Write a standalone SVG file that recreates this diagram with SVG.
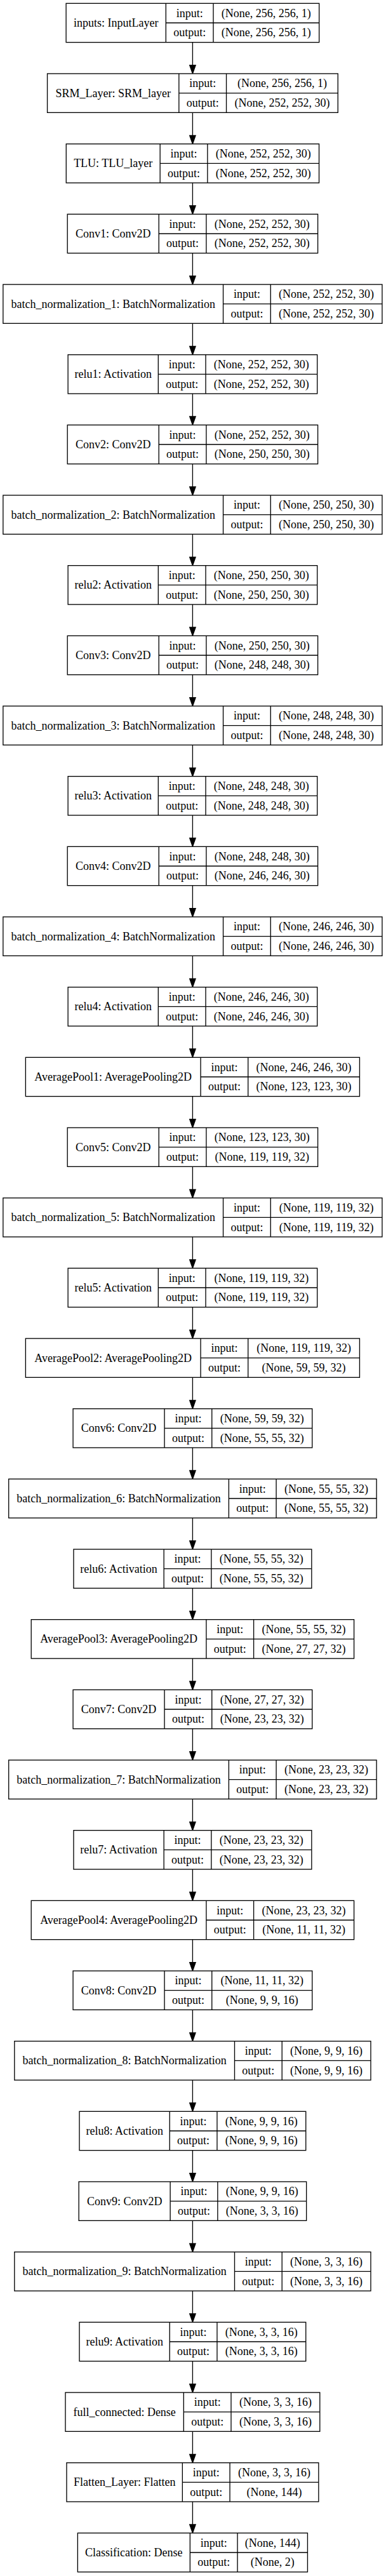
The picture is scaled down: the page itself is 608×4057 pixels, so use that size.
<svg xmlns="http://www.w3.org/2000/svg" width="608" height="4057" viewBox="0 0 608 4057">
<style>
.b{fill:#fff;stroke:#000;stroke-width:1.33}
.l{fill:none;stroke:#000;stroke-width:1.33}
.e{fill:none;stroke:#000;stroke-width:1.33}
text{font-family:"Liberation Serif","Times New Roman",serif;font-size:18px;text-anchor:middle;fill:#000}
</style>
<defs>
<marker id="ah" markerUnits="userSpaceOnUse" viewBox="0 -6 16 12" refX="0" refY="0" markerWidth="16" markerHeight="12" orient="auto" overflow="visible">
<path d="M0,-4.67L13.33,0L0,4.67Z" fill="#000" stroke="#000" stroke-width="1.33"/>
</marker>
</defs>
<rect x="0" y="0" width="608" height="4057" fill="#fff"/>
<g id="edges">
<path class="e" marker-end="url(#ah)" d="M303.4,66.67V102.67"/>
<path class="e" marker-end="url(#ah)" d="M303.4,177.33V213.33"/>
<path class="e" marker-end="url(#ah)" d="M303.4,288V324"/>
<path class="e" marker-end="url(#ah)" d="M303.4,398.67V434.67"/>
<path class="e" marker-end="url(#ah)" d="M303.4,509.33V545.33"/>
<path class="e" marker-end="url(#ah)" d="M303.4,620V656"/>
<path class="e" marker-end="url(#ah)" d="M303.4,730.67V766.67"/>
<path class="e" marker-end="url(#ah)" d="M303.4,841.33V877.33"/>
<path class="e" marker-end="url(#ah)" d="M303.4,952V988"/>
<path class="e" marker-end="url(#ah)" d="M303.4,1062.67V1098.67"/>
<path class="e" marker-end="url(#ah)" d="M303.4,1173.33V1209.33"/>
<path class="e" marker-end="url(#ah)" d="M303.4,1284V1320"/>
<path class="e" marker-end="url(#ah)" d="M303.4,1394.67V1430.67"/>
<path class="e" marker-end="url(#ah)" d="M303.4,1505.33V1541.33"/>
<path class="e" marker-end="url(#ah)" d="M303.4,1616V1652"/>
<path class="e" marker-end="url(#ah)" d="M303.4,1726.67V1762.67"/>
<path class="e" marker-end="url(#ah)" d="M303.4,1837.33V1873.33"/>
<path class="e" marker-end="url(#ah)" d="M303.4,1948V1984"/>
<path class="e" marker-end="url(#ah)" d="M303.4,2058.67V2094.67"/>
<path class="e" marker-end="url(#ah)" d="M303.4,2169.33V2205.33"/>
<path class="e" marker-end="url(#ah)" d="M303.4,2280V2316"/>
<path class="e" marker-end="url(#ah)" d="M303.4,2390.67V2426.67"/>
<path class="e" marker-end="url(#ah)" d="M303.4,2501.33V2537.33"/>
<path class="e" marker-end="url(#ah)" d="M303.4,2612V2648"/>
<path class="e" marker-end="url(#ah)" d="M303.4,2722.67V2758.67"/>
<path class="e" marker-end="url(#ah)" d="M303.4,2833.33V2869.33"/>
<path class="e" marker-end="url(#ah)" d="M303.4,2944V2980"/>
<path class="e" marker-end="url(#ah)" d="M303.4,3054.67V3090.67"/>
<path class="e" marker-end="url(#ah)" d="M303.4,3165.33V3201.33"/>
<path class="e" marker-end="url(#ah)" d="M303.4,3276V3312"/>
<path class="e" marker-end="url(#ah)" d="M303.4,3386.67V3422.67"/>
<path class="e" marker-end="url(#ah)" d="M303.4,3497.33V3533.33"/>
<path class="e" marker-end="url(#ah)" d="M303.4,3608V3644"/>
<path class="e" marker-end="url(#ah)" d="M303.4,3718.67V3754.67"/>
<path class="e" marker-end="url(#ah)" d="M303.4,3829.33V3865.33"/>
<path class="e" marker-end="url(#ah)" d="M303.4,3940V3976"/>
</g>

<g id="inputs" transform="translate(0,5.33)">
<rect class="b" x="104.1" y="0" width="398.6" height="61.33"/>
<path class="l" d="M261.3,0V61.33M336,0V61.33M261.3,30.67H502.7"/>
<text x="182.7" y="36.67">inputs: InputLayer</text>
<text x="298.65" y="21.33">input:</text><text x="298.65" y="52">output:</text>
<text x="419.35" y="21.33">(None, 256, 256, 1)</text><text x="419.35" y="52">(None, 256, 256, 1)</text>
</g>

<g id="SRM_Layer" transform="translate(0,116)">
<rect class="b" x="74.55" y="0" width="457.7" height="61.33"/>
<path class="l" d="M281.85,0V61.33M356.55,0V61.33M281.85,30.67H532.25"/>
<text x="178.2" y="36.67">SRM_Layer: SRM_layer</text>
<text x="319.2" y="21.33">input:</text><text x="319.2" y="52">output:</text>
<text x="444.4" y="21.33">(None, 256, 256, 1)</text><text x="444.4" y="52">(None, 252, 252, 30)</text>
</g>

<g id="TLU" transform="translate(0,226.67)">
<rect class="b" x="104.25" y="0" width="398.3" height="61.33"/>
<path class="l" d="M252.15,0V61.33M326.85,0V61.33M252.15,30.67H502.55"/>
<text x="178.2" y="36.67">TLU: TLU_layer</text>
<text x="289.5" y="21.33">input:</text><text x="289.5" y="52">output:</text>
<text x="414.7" y="21.33">(None, 252, 252, 30)</text><text x="414.7" y="52">(None, 252, 252, 30)</text>
</g>

<g id="Conv1" transform="translate(0,337.33)">
<rect class="b" x="106.2" y="0" width="394.4" height="61.33"/>
<path class="l" d="M250.2,0V61.33M324.9,0V61.33M250.2,30.67H500.6"/>
<text x="178.2" y="36.67">Conv1: Conv2D</text>
<text x="287.55" y="21.33">input:</text><text x="287.55" y="52">output:</text>
<text x="412.75" y="21.33">(None, 252, 252, 30)</text><text x="412.75" y="52">(None, 252, 252, 30)</text>
</g>

<g id="batch_normalization_1" transform="translate(0,448)">
<rect class="b" x="4.85" y="0" width="597.1" height="61.33"/>
<path class="l" d="M351.55,0V61.33M426.25,0V61.33M351.55,30.67H601.95"/>
<text x="178.2" y="36.67">batch_normalization_1: BatchNormalization</text>
<text x="388.9" y="21.33">input:</text><text x="388.9" y="52">output:</text>
<text x="514.1" y="21.33">(None, 252, 252, 30)</text><text x="514.1" y="52">(None, 252, 252, 30)</text>
</g>

<g id="relu1" transform="translate(0,558.67)">
<rect class="b" x="107.1" y="0" width="392.6" height="61.33"/>
<path class="l" d="M249.3,0V61.33M324,0V61.33M249.3,30.67H499.7"/>
<text x="178.2" y="36.67">relu1: Activation</text>
<text x="286.65" y="21.33">input:</text><text x="286.65" y="52">output:</text>
<text x="411.85" y="21.33">(None, 252, 252, 30)</text><text x="411.85" y="52">(None, 252, 252, 30)</text>
</g>

<g id="Conv2" transform="translate(0,669.33)">
<rect class="b" x="106.2" y="0" width="394.4" height="61.33"/>
<path class="l" d="M250.2,0V61.33M324.9,0V61.33M250.2,30.67H500.6"/>
<text x="178.2" y="36.67">Conv2: Conv2D</text>
<text x="287.55" y="21.33">input:</text><text x="287.55" y="52">output:</text>
<text x="412.75" y="21.33">(None, 252, 252, 30)</text><text x="412.75" y="52">(None, 250, 250, 30)</text>
</g>

<g id="batch_normalization_2" transform="translate(0,780)">
<rect class="b" x="4.85" y="0" width="597.1" height="61.33"/>
<path class="l" d="M351.55,0V61.33M426.25,0V61.33M351.55,30.67H601.95"/>
<text x="178.2" y="36.67">batch_normalization_2: BatchNormalization</text>
<text x="388.9" y="21.33">input:</text><text x="388.9" y="52">output:</text>
<text x="514.1" y="21.33">(None, 250, 250, 30)</text><text x="514.1" y="52">(None, 250, 250, 30)</text>
</g>

<g id="relu2" transform="translate(0,890.67)">
<rect class="b" x="107.1" y="0" width="392.6" height="61.33"/>
<path class="l" d="M249.3,0V61.33M324,0V61.33M249.3,30.67H499.7"/>
<text x="178.2" y="36.67">relu2: Activation</text>
<text x="286.65" y="21.33">input:</text><text x="286.65" y="52">output:</text>
<text x="411.85" y="21.33">(None, 250, 250, 30)</text><text x="411.85" y="52">(None, 250, 250, 30)</text>
</g>

<g id="Conv3" transform="translate(0,1001.33)">
<rect class="b" x="106.2" y="0" width="394.4" height="61.33"/>
<path class="l" d="M250.2,0V61.33M324.9,0V61.33M250.2,30.67H500.6"/>
<text x="178.2" y="36.67">Conv3: Conv2D</text>
<text x="287.55" y="21.33">input:</text><text x="287.55" y="52">output:</text>
<text x="412.75" y="21.33">(None, 250, 250, 30)</text><text x="412.75" y="52">(None, 248, 248, 30)</text>
</g>

<g id="batch_normalization_3" transform="translate(0,1112)">
<rect class="b" x="4.85" y="0" width="597.1" height="61.33"/>
<path class="l" d="M351.55,0V61.33M426.25,0V61.33M351.55,30.67H601.95"/>
<text x="178.2" y="36.67">batch_normalization_3: BatchNormalization</text>
<text x="388.9" y="21.33">input:</text><text x="388.9" y="52">output:</text>
<text x="514.1" y="21.33">(None, 248, 248, 30)</text><text x="514.1" y="52">(None, 248, 248, 30)</text>
</g>

<g id="relu3" transform="translate(0,1222.67)">
<rect class="b" x="107.1" y="0" width="392.6" height="61.33"/>
<path class="l" d="M249.3,0V61.33M324,0V61.33M249.3,30.67H499.7"/>
<text x="178.2" y="36.67">relu3: Activation</text>
<text x="286.65" y="21.33">input:</text><text x="286.65" y="52">output:</text>
<text x="411.85" y="21.33">(None, 248, 248, 30)</text><text x="411.85" y="52">(None, 248, 248, 30)</text>
</g>

<g id="Conv4" transform="translate(0,1333.33)">
<rect class="b" x="106.2" y="0" width="394.4" height="61.33"/>
<path class="l" d="M250.2,0V61.33M324.9,0V61.33M250.2,30.67H500.6"/>
<text x="178.2" y="36.67">Conv4: Conv2D</text>
<text x="287.55" y="21.33">input:</text><text x="287.55" y="52">output:</text>
<text x="412.75" y="21.33">(None, 248, 248, 30)</text><text x="412.75" y="52">(None, 246, 246, 30)</text>
</g>

<g id="batch_normalization_4" transform="translate(0,1444)">
<rect class="b" x="4.85" y="0" width="597.1" height="61.33"/>
<path class="l" d="M351.55,0V61.33M426.25,0V61.33M351.55,30.67H601.95"/>
<text x="178.2" y="36.67">batch_normalization_4: BatchNormalization</text>
<text x="388.9" y="21.33">input:</text><text x="388.9" y="52">output:</text>
<text x="514.1" y="21.33">(None, 246, 246, 30)</text><text x="514.1" y="52">(None, 246, 246, 30)</text>
</g>

<g id="relu4" transform="translate(0,1554.67)">
<rect class="b" x="107.1" y="0" width="392.6" height="61.33"/>
<path class="l" d="M249.3,0V61.33M324,0V61.33M249.3,30.67H499.7"/>
<text x="178.2" y="36.67">relu4: Activation</text>
<text x="286.65" y="21.33">input:</text><text x="286.65" y="52">output:</text>
<text x="411.85" y="21.33">(None, 246, 246, 30)</text><text x="411.85" y="52">(None, 246, 246, 30)</text>
</g>

<g id="AveragePool1" transform="translate(0,1665.33)">
<rect class="b" x="40.35" y="0" width="526.1" height="61.33"/>
<path class="l" d="M316.05,0V61.33M390.75,0V61.33M316.05,30.67H566.45"/>
<text x="178.2" y="36.67">AveragePool1: AveragePooling2D</text>
<text x="353.4" y="21.33">input:</text><text x="353.4" y="52">output:</text>
<text x="478.6" y="21.33">(None, 246, 246, 30)</text><text x="478.6" y="52">(None, 123, 123, 30)</text>
</g>

<g id="Conv5" transform="translate(0,1776)">
<rect class="b" x="106.2" y="0" width="394.4" height="61.33"/>
<path class="l" d="M250.2,0V61.33M324.9,0V61.33M250.2,30.67H500.6"/>
<text x="178.2" y="36.67">Conv5: Conv2D</text>
<text x="287.55" y="21.33">input:</text><text x="287.55" y="52">output:</text>
<text x="412.75" y="21.33">(None, 123, 123, 30)</text><text x="412.75" y="52">(None, 119, 119, 32)</text>
</g>

<g id="batch_normalization_5" transform="translate(0,1886.67)">
<rect class="b" x="4.85" y="0" width="597.1" height="61.33"/>
<path class="l" d="M351.55,0V61.33M426.25,0V61.33M351.55,30.67H601.95"/>
<text x="178.2" y="36.67">batch_normalization_5: BatchNormalization</text>
<text x="388.9" y="21.33">input:</text><text x="388.9" y="52">output:</text>
<text x="514.1" y="21.33">(None, 119, 119, 32)</text><text x="514.1" y="52">(None, 119, 119, 32)</text>
</g>

<g id="relu5" transform="translate(0,1997.33)">
<rect class="b" x="107.1" y="0" width="392.6" height="61.33"/>
<path class="l" d="M249.3,0V61.33M324,0V61.33M249.3,30.67H499.7"/>
<text x="178.2" y="36.67">relu5: Activation</text>
<text x="286.65" y="21.33">input:</text><text x="286.65" y="52">output:</text>
<text x="411.85" y="21.33">(None, 119, 119, 32)</text><text x="411.85" y="52">(None, 119, 119, 32)</text>
</g>

<g id="AveragePool2" transform="translate(0,2108)">
<rect class="b" x="40.35" y="0" width="526.1" height="61.33"/>
<path class="l" d="M316.05,0V61.33M390.75,0V61.33M316.05,30.67H566.45"/>
<text x="178.2" y="36.67">AveragePool2: AveragePooling2D</text>
<text x="353.4" y="21.33">input:</text><text x="353.4" y="52">output:</text>
<text x="478.6" y="21.33">(None, 119, 119, 32)</text><text x="478.6" y="52">(None, 59, 59, 32)</text>
</g>

<g id="Conv6" transform="translate(0,2218.67)">
<rect class="b" x="115.05" y="0" width="376.7" height="61.33"/>
<path class="l" d="M259.05,0V61.33M333.75,0V61.33M259.05,30.67H491.75"/>
<text x="187.05" y="36.67">Conv6: Conv2D</text>
<text x="296.4" y="21.33">input:</text><text x="296.4" y="52">output:</text>
<text x="412.75" y="21.33">(None, 59, 59, 32)</text><text x="412.75" y="52">(None, 55, 55, 32)</text>
</g>

<g id="batch_normalization_6" transform="translate(0,2329.33)">
<rect class="b" x="13.7" y="0" width="579.4" height="61.33"/>
<path class="l" d="M360.4,0V61.33M435.1,0V61.33M360.4,30.67H593.1"/>
<text x="187.05" y="36.67">batch_normalization_6: BatchNormalization</text>
<text x="397.75" y="21.33">input:</text><text x="397.75" y="52">output:</text>
<text x="514.1" y="21.33">(None, 55, 55, 32)</text><text x="514.1" y="52">(None, 55, 55, 32)</text>
</g>

<g id="relu6" transform="translate(0,2440)">
<rect class="b" x="115.95" y="0" width="374.9" height="61.33"/>
<path class="l" d="M258.15,0V61.33M332.85,0V61.33M258.15,30.67H490.85"/>
<text x="187.05" y="36.67">relu6: Activation</text>
<text x="295.5" y="21.33">input:</text><text x="295.5" y="52">output:</text>
<text x="411.85" y="21.33">(None, 55, 55, 32)</text><text x="411.85" y="52">(None, 55, 55, 32)</text>
</g>

<g id="AveragePool3" transform="translate(0,2550.67)">
<rect class="b" x="49.2" y="0" width="508.4" height="61.33"/>
<path class="l" d="M324.9,0V61.33M399.6,0V61.33M324.9,30.67H557.6"/>
<text x="187.05" y="36.67">AveragePool3: AveragePooling2D</text>
<text x="362.25" y="21.33">input:</text><text x="362.25" y="52">output:</text>
<text x="478.6" y="21.33">(None, 55, 55, 32)</text><text x="478.6" y="52">(None, 27, 27, 32)</text>
</g>

<g id="Conv7" transform="translate(0,2661.33)">
<rect class="b" x="115.05" y="0" width="376.7" height="61.33"/>
<path class="l" d="M259.05,0V61.33M333.75,0V61.33M259.05,30.67H491.75"/>
<text x="187.05" y="36.67">Conv7: Conv2D</text>
<text x="296.4" y="21.33">input:</text><text x="296.4" y="52">output:</text>
<text x="412.75" y="21.33">(None, 27, 27, 32)</text><text x="412.75" y="52">(None, 23, 23, 32)</text>
</g>

<g id="batch_normalization_7" transform="translate(0,2772)">
<rect class="b" x="13.7" y="0" width="579.4" height="61.33"/>
<path class="l" d="M360.4,0V61.33M435.1,0V61.33M360.4,30.67H593.1"/>
<text x="187.05" y="36.67">batch_normalization_7: BatchNormalization</text>
<text x="397.75" y="21.33">input:</text><text x="397.75" y="52">output:</text>
<text x="514.1" y="21.33">(None, 23, 23, 32)</text><text x="514.1" y="52">(None, 23, 23, 32)</text>
</g>

<g id="relu7" transform="translate(0,2882.67)">
<rect class="b" x="115.95" y="0" width="374.9" height="61.33"/>
<path class="l" d="M258.15,0V61.33M332.85,0V61.33M258.15,30.67H490.85"/>
<text x="187.05" y="36.67">relu7: Activation</text>
<text x="295.5" y="21.33">input:</text><text x="295.5" y="52">output:</text>
<text x="411.85" y="21.33">(None, 23, 23, 32)</text><text x="411.85" y="52">(None, 23, 23, 32)</text>
</g>

<g id="AveragePool4" transform="translate(0,2993.33)">
<rect class="b" x="49.2" y="0" width="508.4" height="61.33"/>
<path class="l" d="M324.9,0V61.33M399.6,0V61.33M324.9,30.67H557.6"/>
<text x="187.05" y="36.67">AveragePool4: AveragePooling2D</text>
<text x="362.25" y="21.33">input:</text><text x="362.25" y="52">output:</text>
<text x="478.6" y="21.33">(None, 23, 23, 32)</text><text x="478.6" y="52">(None, 11, 11, 32)</text>
</g>

<g id="Conv8" transform="translate(0,3104)">
<rect class="b" x="115.05" y="0" width="376.7" height="61.33"/>
<path class="l" d="M259.05,0V61.33M333.75,0V61.33M259.05,30.67H491.75"/>
<text x="187.05" y="36.67">Conv8: Conv2D</text>
<text x="296.4" y="21.33">input:</text><text x="296.4" y="52">output:</text>
<text x="412.75" y="21.33">(None, 11, 11, 32)</text><text x="412.75" y="52">(None, 9, 9, 16)</text>
</g>

<g id="batch_normalization_8" transform="translate(0,3214.67)">
<rect class="b" x="22.8" y="0" width="561.2" height="61.33"/>
<path class="l" d="M369.5,0V61.33M444.2,0V61.33M369.5,30.67H584"/>
<text x="196.15" y="36.67">batch_normalization_8: BatchNormalization</text>
<text x="406.85" y="21.33">input:</text><text x="406.85" y="52">output:</text>
<text x="514.1" y="21.33">(None, 9, 9, 16)</text><text x="514.1" y="52">(None, 9, 9, 16)</text>
</g>

<g id="relu8" transform="translate(0,3325.33)">
<rect class="b" x="125.05" y="0" width="356.7" height="61.33"/>
<path class="l" d="M267.25,0V61.33M341.95,0V61.33M267.25,30.67H481.75"/>
<text x="196.15" y="36.67">relu8: Activation</text>
<text x="304.6" y="21.33">input:</text><text x="304.6" y="52">output:</text>
<text x="411.85" y="21.33">(None, 9, 9, 16)</text><text x="411.85" y="52">(None, 9, 9, 16)</text>
</g>

<g id="Conv9" transform="translate(0,3436)">
<rect class="b" x="124.15" y="0" width="358.5" height="61.33"/>
<path class="l" d="M268.15,0V61.33M342.85,0V61.33M268.15,30.67H482.65"/>
<text x="196.15" y="36.67">Conv9: Conv2D</text>
<text x="305.5" y="21.33">input:</text><text x="305.5" y="52">output:</text>
<text x="412.75" y="21.33">(None, 9, 9, 16)</text><text x="412.75" y="52">(None, 3, 3, 16)</text>
</g>

<g id="batch_normalization_9" transform="translate(0,3546.67)">
<rect class="b" x="22.8" y="0" width="561.2" height="61.33"/>
<path class="l" d="M369.5,0V61.33M444.2,0V61.33M369.5,30.67H584"/>
<text x="196.15" y="36.67">batch_normalization_9: BatchNormalization</text>
<text x="406.85" y="21.33">input:</text><text x="406.85" y="52">output:</text>
<text x="514.1" y="21.33">(None, 3, 3, 16)</text><text x="514.1" y="52">(None, 3, 3, 16)</text>
</g>

<g id="relu9" transform="translate(0,3657.33)">
<rect class="b" x="125.05" y="0" width="356.7" height="61.33"/>
<path class="l" d="M267.25,0V61.33M341.95,0V61.33M267.25,30.67H481.75"/>
<text x="196.15" y="36.67">relu9: Activation</text>
<text x="304.6" y="21.33">input:</text><text x="304.6" y="52">output:</text>
<text x="411.85" y="21.33">(None, 3, 3, 16)</text><text x="411.85" y="52">(None, 3, 3, 16)</text>
</g>

<g id="full_connected" transform="translate(0,3768)">
<rect class="b" x="103" y="0" width="400.8" height="61.33"/>
<path class="l" d="M289.3,0V61.33M364,0V61.33M289.3,30.67H503.8"/>
<text x="196.15" y="36.67">full_connected: Dense</text>
<text x="326.65" y="21.33">input:</text><text x="326.65" y="52">output:</text>
<text x="433.9" y="21.33">(None, 3, 3, 16)</text><text x="433.9" y="52">(None, 3, 3, 16)</text>
</g>

<g id="Flatten_Layer" transform="translate(0,3878.67)">
<rect class="b" x="104.95" y="0" width="396.9" height="61.33"/>
<path class="l" d="M287.35,0V61.33M362.05,0V61.33M287.35,30.67H501.85"/>
<text x="196.15" y="36.67">Flatten_Layer: Flatten</text>
<text x="324.7" y="21.33">input:</text><text x="324.7" y="52">output:</text>
<text x="431.95" y="21.33">(None, 3, 3, 16)</text><text x="431.95" y="52">(None, 144)</text>
</g>

<g id="Classification" transform="translate(0,3989.33)">
<rect class="b" x="122.35" y="0" width="362.1" height="61.33"/>
<path class="l" d="M299.35,0V61.33M374.05,0V61.33M299.35,30.67H484.45"/>
<text x="210.85" y="36.67">Classification: Dense</text>
<text x="336.7" y="21.33">input:</text><text x="336.7" y="52">output:</text>
<text x="429.25" y="21.33">(None, 144)</text><text x="429.25" y="52">(None, 2)</text>
</g>
</svg>
